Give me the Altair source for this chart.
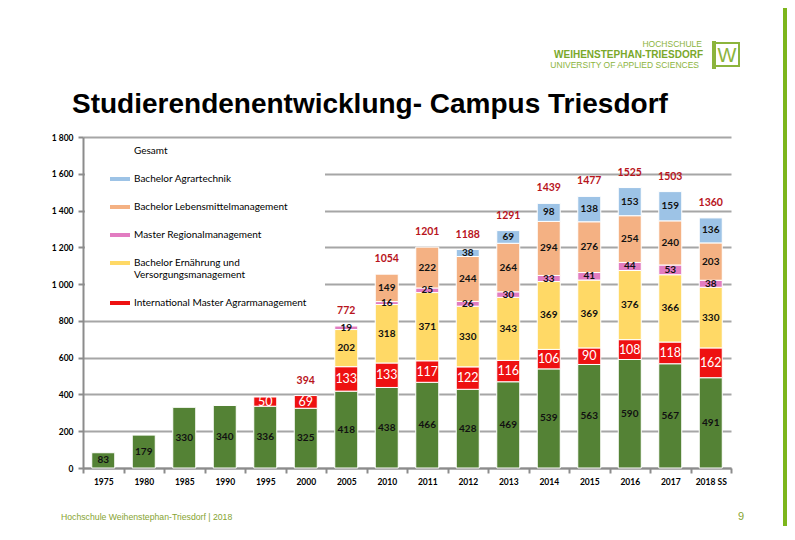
import altair as alt
import pandas as pd

# ---------------- data ----------------
years = ["1975", "1980", "1985", "1990", "1995", "2000", "2005", "2010", "2011",
         "2012", "2013", "2014", "2015", "2016", "2017", "2018 SS"]
landwirtschaft = [83, 179, 330, 340, 336, 325, 418, 438, 466, 428, 469, 539, 563, 590, 567, 491]
intl_master = [None, None, None, None, 50, 69, 133, 133, 117, 122, 116, 106, 90, 108, 118, 162]
ernaehrung = [None, None, None, None, None, None, 202, 318, 371, 330, 343, 369, 369, 376, 366, 330]
regional = [None, None, None, None, None, None, 19, 16, 25, 26, 30, 33, 41, 44, 53, 38]
lebensmittel = [None, None, None, None, None, None, None, 149, 222, 244, 264, 294, 276, 254, 240, 203]
agrartechnik = [None, None, None, None, None, None, None, None, None, 38, 69, 98, 138, 153, 159, 136]
total_label_years = ["2000", "2005", "2010", "2011", "2012", "2013", "2014", "2015",
                     "2016", "2017", "2018 SS"]
y_ticks = [0, 200, 400, 600, 800, 1000, 1200, 1400, 1600, 1800]

series_names = ["Gesamt", "Bachelor Agrartechnik", "Bachelor Lebensmittelmanagement",
                "Master Regionalmanagement", "Bachelor Ernährung und Versorgungsmanagement",
                "International Master Agrarmanagement", "Landwirtschaft"]
series_colors = ["transparent", "#9dc3e6", "#f4b183", "#e27cc1", "#ffd966", "#ee1111", "#548235"]
legend_values = series_names[:6]

stack_series = [("Landwirtschaft", landwirtschaft),
                ("International Master Agrarmanagement", intl_master),
                ("Bachelor Ernährung und Versorgungsmanagement", ernaehrung),
                ("Master Regionalmanagement", regional),
                ("Bachelor Lebensmittelmanagement", lebensmittel),
                ("Bachelor Agrartechnik", agrartechnik)]

rows = []
for order, (name, vals) in enumerate(stack_series):
    for y, v in zip(years, vals):
        if v is not None:
            rows.append({"year": y, "series": name, "value": v, "order": order})
df = pd.DataFrame(rows)
dummy = pd.DataFrame({"a": [0]})

# ---------------- styles ----------------
GRID = "#a6a6a6"
AXIS = "#8c8c8c"
LABEL_FONT = "Lato"

x_axis = alt.Axis(labelAngle=0, tickBand="extent", domainColor=AXIS, domainWidth=2,
                  tickColor=AXIS, tickWidth=2, tickSize=5, labelFont=LABEL_FONT,
                  labelFontSize=8.5, labelFontWeight="bold", labelColor="black",
                  labelPadding=4, grid=False, title=None)
x_scale = alt.Scale(paddingInner=0, paddingOuter=0)
y_axis = alt.Axis(values=y_ticks, grid=True, gridColor=GRID, gridWidth=2,
                  domainColor=AXIS, domainWidth=2, tickColor=AXIS, tickWidth=2,
                  tickSize=5, labelFont=LABEL_FONT, labelFontSize=8.5,
                  labelFontWeight="bold", labelColor="black", labelPadding=5,
                  labelOverlap=False, title=None,
                  labelExpr="replace(format(datum.value, ','), ',', ' ')")
y_scale = alt.Scale(domain=[0, 1800], nice=False)


def xenc():
    return alt.X("year:N", sort=years, title=None, scale=x_scale, axis=x_axis)


def yenc(field):
    return alt.Y(field, scale=y_scale, axis=y_axis, title=None)


bars = alt.Chart(df).mark_bar(size=23, stroke="white", strokeWidth=1).encode(
    x=xenc(),
    y=alt.Y("value:Q", stack="zero", scale=y_scale, axis=y_axis, title=None),
    color=alt.Color("series:N",
                    scale=alt.Scale(domain=series_names, range=series_colors),
                    legend=alt.Legend(
                        title=None, orient="none", legendX=27, legendY=4, values=legend_values,
                        direction="vertical", columns=1, padding=0, rowPadding=13,
                        symbolType="M-1,-0.2H1V0.2H-1Z", symbolSize=400,
                        symbolStrokeWidth=0, symbolOpacity=1,
                        labelFont=LABEL_FONT, labelFontSize=10, labelColor="black",
                        labelLimit=400, labelOffset=4,
                        labelExpr="datum.label == 'Bachelor Ernährung und Versorgungsmanagement' ? ['Bachelor Ernährung und', 'Versorgungsmanagement'] : datum.label")),
    order=alt.Order("order:Q", sort="ascending"),
)

seg_base = alt.Chart(df).transform_window(
    cum="sum(value)", sort=[alt.SortField("order")], groupby=["year"], frame=[None, 0]
).transform_calculate(mid="datum.cum - datum.value / 2")

seg_labels = seg_base.transform_filter(
    "datum.series != 'International Master Agrarmanagement'"
).mark_text(font=LABEL_FONT, fontSize=10, fontWeight="bold", color="#111111",
            baseline="middle").encode(x=xenc(), y=yenc("mid:Q"), text="value:Q")

red_labels = seg_base.transform_filter(
    "datum.series == 'International Master Agrarmanagement'"
).mark_text(font=LABEL_FONT, fontSize=12.5, color="white", baseline="middle").encode(
    x=xenc(), y=yenc("mid:Q"), text="value:Q")

totals = alt.Chart(df).transform_aggregate(
    total="sum(value)", groupby=["year"]
).transform_filter(
    alt.FieldOneOfPredicate(field="year", oneOf=total_label_years)
).mark_text(font=LABEL_FONT, fontSize=10.5, fontWeight="bold", color="#b8141c",
            baseline="middle", dy=-15).encode(x=xenc(), y=yenc("total:Q"), text="total:Q")

legend_bg = alt.Chart(dummy).mark_rect(fill="white").encode(
    x=alt.value(2), x2=alt.value(242), y=alt.value(4), y2=alt.value(172))

title = alt.Chart(dummy).mark_text(font="Liberation Sans", fontSize=28, fontWeight="bold",
                                   color="black", align="left", baseline="alphabetic").encode(
    x=alt.value(-11), y=alt.value(-24), text=alt.value("Studierendenentwicklung- Campus Triesdorf"))

LOGO = "#8cb43c"
logo1 = alt.Chart(dummy).mark_text(font="Liberation Sans", fontSize=8.5, color=LOGO,
                                   align="right", baseline="middle").encode(
    x=alt.value(619), y=alt.value(-93), text=alt.value("HOCHSCHULE"))
logo2 = alt.Chart(dummy).mark_text(font="Liberation Sans", fontSize=10, fontWeight="bold",
                                   color="#7aa82a", align="right", baseline="middle").encode(
    x=alt.value(620), y=alt.value(-82), text=alt.value("WEIHENSTEPHAN-TRIESDORF"))
logo3 = alt.Chart(dummy).mark_text(font="Liberation Sans", fontSize=8.5, color=LOGO,
                                   align="right", baseline="middle").encode(
    x=alt.value(616), y=alt.value(-72), text=alt.value("UNIVERSITY OF APPLIED SCIENCES"))
logo_box = alt.Chart(dummy).mark_rect(fill="white", stroke=LOGO, strokeWidth=2).encode(
    x=alt.value(632), x2=alt.value(656), y=alt.value(-94), y2=alt.value(-71))
logo_bar = alt.Chart(dummy).mark_rect(fill=LOGO).encode(
    x=alt.value(629), x2=alt.value(633), y=alt.value(-96), y2=alt.value(-68))
logo_w = alt.Chart(dummy).mark_text(font="Liberation Sans", fontSize=20, color=LOGO,
                                    align="center", baseline="middle").encode(
    x=alt.value(644), y=alt.value(-81), text=alt.value("W"))

side_bar = alt.Chart(dummy).mark_rect(fill="#7db61c").encode(
    x=alt.value(700), x2=alt.value(704), y=alt.value(-137), y2=alt.value(403))

footer = alt.Chart(dummy).mark_text(font="Liberation Sans", fontSize=8.7,
                                    color="#86a431", align="left", baseline="middle").encode(
    x=alt.value(-22), y=alt.value(380), text=alt.value("Hochschule Weihenstephan-Triesdorf | 2018"))
page_no = alt.Chart(dummy).mark_text(font="Liberation Sans", fontSize=11, color="#86a431",
                                     align="center", baseline="middle").encode(
    x=alt.value(658), y=alt.value(380), text=alt.value("9"))

chart = alt.layer(
    legend_bg, bars, seg_labels, red_labels, totals, title,
    logo1, logo2, logo3, logo_bar, logo_box, logo_w, side_bar, footer, page_no
).properties(
    width=648, height=331,
    padding={"left": 75, "top": 129, "right": 56, "bottom": 58},
    autosize=alt.AutoSizeParams(type="none"),
    background="white",
).configure_view(stroke=None)

chart.save("out.html", embed_options={"renderer": "svg", "actions": False})
